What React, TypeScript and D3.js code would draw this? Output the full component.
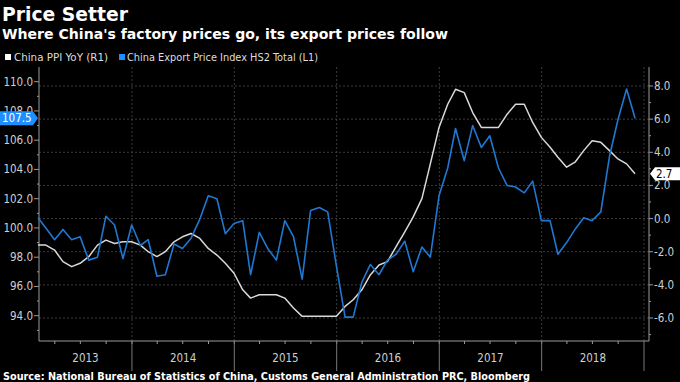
import React from "react";
import * as d3 from "d3";

const startMonth = new Date(2013, 0, 1);
const ppiYoY = [
  -1.6, -1.6, -1.9, -2.6, -2.9, -2.7, -2.3, -1.6, -1.3, -1.5, -1.4, -1.4,
  -1.6, -2.0, -2.3, -2.0, -1.4, -1.1, -0.9, -1.2, -1.8, -2.2, -2.7, -3.3,
  -4.3, -4.8, -4.6, -4.6, -4.6, -4.8, -5.4, -5.9, -5.9, -5.9, -5.9, -5.9,
  -5.3, -4.9, -4.3, -3.4, -2.8, -2.6, -1.7, -0.8, 0.1, 1.2, 3.3, 5.5,
  6.9, 7.8, 7.6, 6.4, 5.5, 5.5, 5.5, 6.3, 6.9, 6.9, 5.8, 4.9,
  4.3, 3.7, 3.1, 3.4, 4.1, 4.7, 4.6, 4.1, 3.6, 3.3, 2.7,
];
const exportIdx = [
  100.7, 100.0, 99.2, 99.9, 99.2, 99.4, 97.8, 98.0, 100.8, 100.2, 97.9, 100.2,
  98.8, 99.2, 96.7, 96.8, 98.9, 98.6, 99.3, 100.6, 102.2, 102.0, 99.6, 100.3,
  100.5, 96.8, 99.7, 98.6, 97.8, 100.5, 99.4, 96.5, 101.2, 101.4, 101.1, 97.4,
  93.9, 93.9, 96.3, 97.5, 96.8, 97.8, 98.2, 99.1, 97.0, 98.7, 98.0, 102.2,
  104.1, 106.8, 104.6, 107.0, 105.5, 106.3, 104.1, 102.9, 102.8, 102.4, 103.2, 100.5,
  100.5, 98.2, 99.0, 99.9, 100.7, 100.5, 101.1, 104.9, 107.4, 109.5, 107.5,
];
const leftTicks = [94, 96, 98, 100, 102, 104, 106, 108, 110];
const rightTicks = [-6, -4, -2, 0, 2, 4, 6, 8];
const years = [2013, 2014, 2015, 2016, 2017, 2018];

const W = 680, H = 382;
const PL = 39, PR = 649, PT = 67, PB = 341;
const FONT = "'DejaVu Sans Condensed', 'DejaVu Sans', sans-serif";
const BLUE = "#1f78d1";
const WHITE = "#d9d9d9";
const TXT = "#cfcfcf";

export default function App() {
  const x = d3.scaleTime().domain([new Date(2013, 0, 1), new Date(2019, 0, 1)]).range([29.6, 644]);
  const yL = d3.scaleLinear().domain([94, 110]).range([315.7, 81.7]);
  const yR = d3.scaleLinear().domain([-6, 8]).range([318, 86]);
  const dates = ppiYoY.map((_, i) => new Date(startMonth.getFullYear(), startMonth.getMonth() + i + 1, 0));
  const lineL = d3.line<number>().x((_, i) => x(dates[i])).y((d) => yL(d));
  const lineR = d3.line<number>().x((_, i) => x(dates[i])).y((d) => yR(d));
  const fmt = (v: number) => d3.format(".1f")(v).replace("\u2212", "-");

  const leftMinor = d3.range(93, 111, 1);
  const rightMinor = d3.range(-7, 9, 1);
  const quarters = d3.timeMonth.every(3)!.range(new Date(2013, 3, 1), new Date(2019, 0, 1));
  const yearBounds = years.map((y) => new Date(y + 1, 0, 1));

  const lastL = exportIdx[exportIdx.length - 1];
  const lastR = ppiYoY[ppiYoY.length - 1];
  const yl = yL(lastL), yr = yR(lastR);

  return (
    <div style={{ position: "fixed", left: 0, top: 0, width: W, height: H, background: "#000" }}>
      <svg width={W} height={H} style={{ display: "block", fontFamily: FONT }}>
        <rect x={0} y={0} width={W} height={H} fill="#000" />
        <text x={2} y={21} fill="#fff" fontFamily="'DejaVu Sans', sans-serif" fontWeight="bold" fontSize={19} textLength={126} lengthAdjust="spacingAndGlyphs">Price Setter</text>
        <text x={2} y={38.5} fill="#fff" fontFamily="'DejaVu Sans', sans-serif" fontWeight="bold" fontSize={13.5} textLength={446} lengthAdjust="spacingAndGlyphs">Where China's factory prices go, its export prices follow</text>
        {/* legend */}
        <rect x={5} y={54} width={6} height={6} fill="#fff" />
        <text x={14} y={61} fill="#ddd" fontSize={11} textLength={94} lengthAdjust="spacingAndGlyphs">China PPI YoY (R1)</text>
        <rect x={119} y={54} width={6} height={6} fill="#1f8fff" />
        <text x={127} y={61} fill="#ddd" fontSize={11} textLength={191} lengthAdjust="spacingAndGlyphs">China Export Price Index HS2 Total (L1)</text>

        {/* gridlines */}
        {rightTicks.map((t) => (
          <line key={"gh" + t} x1={PL} x2={PR} y1={yR(t)} y2={yR(t)} stroke="#4a4a4a" strokeWidth={0.8} strokeDasharray="2,2" />
        ))}
        {yearBounds.map((d, i) => (
          <line key={"gv" + i} x1={x(d)} x2={x(d)} y1={PT} y2={PB} stroke="#4a4a4a" strokeWidth={0.8} strokeDasharray="2,2" />
        ))}

        {/* axes */}
        <line x1={PL} x2={PL} y1={PT} y2={PB} stroke="#9a9a9a" strokeWidth={1} />
        <line x1={PR} x2={PR} y1={PT} y2={PB} stroke="#9a9a9a" strokeWidth={1} />
        <line x1={PL} x2={PR} y1={PB} y2={PB} stroke="#9a9a9a" strokeWidth={1} />
        {leftMinor.map((t) => (
          <line key={"lm" + t} x1={PL - (t % 2 === 0 ? 5 : 2)} x2={PL} y1={yL(t)} y2={yL(t)} stroke="#9a9a9a" />
        ))}
        {rightMinor.map((t) => (
          <line key={"rm" + t} x1={PR} x2={PR + (t % 2 === 0 ? 4 : 2)} y1={yR(t)} y2={yR(t)} stroke="#9a9a9a" />
        ))}
        {leftTicks.map((t) => (
          <text key={"lt" + t} x={33} y={yL(t) + 4} textAnchor="end" fill={TXT} fontSize={11.5}>{fmt(t)}</text>
        ))}
        {rightTicks.map((t) => (
          <text key={"rt" + t} x={t < 0 ? 654 : 654} y={yR(t) + 4} fill={TXT} fontSize={11.5}>{fmt(t)}</text>
        ))}
        {quarters.map((d, i) => (
          <line key={"q" + i} x1={x(d)} x2={x(d)} y1={PB} y2={PB + 3} stroke="#9a9a9a" />
        ))}
        {yearBounds.map((d, i) => (
          <line key={"ys" + i} x1={x(d)} x2={x(d)} y1={PB} y2={371} stroke="#777" />
        ))}
        {years.map((yv) => {
          const a = Math.max(PL, x(new Date(yv, 0, 1)));
          const b = Math.min(PR, x(new Date(yv + 1, 0, 1)));
          return (
            <text key={"y" + yv} x={(a + b) / 2} y={362} textAnchor="middle" fill={TXT} fontSize={11.5}>{yv}</text>
          );
        })}

        {/* series */}
        <path d={lineR(ppiYoY) || ""} fill="none" stroke={WHITE} strokeWidth={1.5} strokeLinejoin="round" />
        <path d={lineL(exportIdx) || ""} fill="none" stroke={BLUE} strokeWidth={1.6} strokeLinejoin="round" />

        {/* last value labels */}
        <path d={`M0,${yl - 7} L33,${yl - 7} L38,${yl} L33,${yl + 7} L0,${yl + 7} Z`} fill="#1f8fff" />
        <text x={2} y={yl + 4} fill="#fff" fontSize={11.5}>{fmt(lastL)}</text>
        <path d={`M680,${yr - 6.5} L655,${yr - 6.5} L650,${yr} L655,${yr + 6.5} L680,${yr + 6.5} Z`} fill="#fff" />
        <text x={656} y={yr + 4} fill="#000" fontSize={11.5}>{fmt(lastR)}</text>

        <text x={3} y={380} fill="#fff" fontWeight="bold" fontSize={11} textLength={527} lengthAdjust="spacingAndGlyphs">Source: National Bureau of Statistics of China, Customs General Administration PRC, Bloomberg</text>
      </svg>
    </div>
  );
}
